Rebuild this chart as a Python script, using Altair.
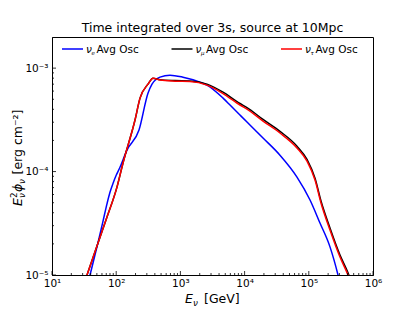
import altair as alt
import pandas as pd

# ---------------- data ----------------
E_nue = [33.1, 39.1, 50.2, 62.2, 72.0, 80.0, 90.0, 100.0, 114.6, 147.2, 226.5, 312.6,
         361.4, 480.8, 688.7, 1096, 2018, 2594, 4613, 5929, 8472, 10890, 19360, 35560,
         65460, 104500, 149300, 213800, 285100, 338800]
phi_nue = [6.6e-6, 1.0e-5, 1.87e-5, 3.30e-5, 4.9e-5, 6.3e-5, 7.8e-5, 9.2e-5, 1.10e-4,
           1.61e-4, 2.52e-4, 5.73e-4, 7.0e-4, 8.18e-4, 8.55e-4, 8.18e-4, 7.33e-4, 6.85e-4,
           5.13e-4, 4.40e-4, 3.52e-4, 3.01e-4, 2.11e-4, 1.44e-4, 8.85e-5, 5.31e-5,
           3.18e-5, 1.87e-5, 1.0e-5, 6.3e-6]

E_numu = [30, 35.1, 52.1, 71.9, 102.8, 127.6, 196.3, 235, 313, 374, 481, 824, 1413,
          2594, 4613, 8472, 10890, 19360, 35560, 65460, 93760, 125000, 154900,
          213800, 306200, 408300, 501000]
phi_numu = [7.6e-6, 1.0e-5, 2.04e-5, 3.63e-5, 7.08e-5, 1.21e-4, 3.15e-4, 5.13e-4,
            7.0e-4, 8.0e-4, 7.72e-4, 7.58e-4, 7.52e-4, 7.0e-4, 5.85e-4, 4.55e-4,
            4.16e-4, 3.19e-4, 2.45e-4, 1.76e-4, 1.31e-4, 8.6e-5, 5.2e-5, 2.85e-5,
            1.56e-5, 1.05e-5, 7.4e-6]

E_nutau = [30, 35.1, 52.1, 71.9, 102.8, 127.6, 196.3, 235, 313, 374, 481, 824, 1413,
           2594, 4613, 8472, 10890, 19360, 35560, 65460, 93760, 125000, 154900,
           213800, 306200, 408300, 501000]
phi_nutau = [7.6e-6, 1.0e-5, 2.04e-5, 3.63e-5, 7.08e-5, 1.21e-4, 3.15e-4, 5.13e-4,
             7.0e-4, 8.0e-4, 7.66e-4, 7.48e-4, 7.41e-4, 6.85e-4, 5.68e-4, 4.40e-4,
             4.02e-4, 3.08e-4, 2.36e-4, 1.69e-4, 1.26e-4, 8.28e-5, 4.97e-5, 2.72e-5,
             1.49e-5, 1.0e-5, 7.1e-6]

series = ["nue", "numu", "nutau"]
colors = ["#0000ff", "#000000", "#ff0000"]
subscripts = ["e", "μ", "τ"]
legend_text = "Avg Osc"
title_text = "Time integrated over 3s, source at 10Mpc"

x_major = [10, 100, 1e3, 1e4, 1e5, 1e6]
y_major = [1e-5, 1e-4, 1e-3]
x_domain = [10, 1e6]
y_domain = [1e-5, 2e-3]

# ---------------- layout ----------------
W, H = 321, 238
FONT = "DejaVu Sans"

rows = []
for name, Es, ps in [("nue", E_nue, phi_nue), ("numu", E_numu, phi_numu),
                     ("nutau", E_nutau, phi_nutau)]:
    for e, p in zip(Es, ps):
        rows.append({"series": name, "E": e, "phi": p})
df = pd.DataFrame(rows)

xscale = alt.Scale(type="log", domain=x_domain, nice=False)
yscale = alt.Scale(type="log", domain=y_domain, nice=False)
cscale = alt.Scale(domain=series, range=colors)

sup = "['⁰','¹','²','³','⁴','⁵','⁶','⁷']"
x_axis = alt.Axis(values=x_major, labelExpr="'10' + " + sup + "[round(log(datum.value)/LN10)]",
                  title=None, ticks=False, tickSize=0, grid=False, labelFlush=False,
                  labelOverlap=False, labelPadding=3, labelFontSize=10.5, labelFont=FONT,
                  labelColor="black", domainColor="black", domainWidth=1)
y_axis = alt.Axis(values=y_major, labelExpr="'10⁻' + " + sup + "[round(-log(datum.value)/LN10)]",
                  title=None, ticks=False, tickSize=0, grid=False, labelFlush=False,
                  labelOverlap=False, labelPadding=4, labelFontSize=10.5, labelFont=FONT,
                  labelColor="black", domainColor="black", domainWidth=1)

lines = alt.Chart(df).mark_line(strokeWidth=1.5, clip=True, interpolate="monotone").encode(
    x=alt.X("E:Q", scale=xscale, axis=x_axis),
    y=alt.Y("phi:Q", scale=yscale, axis=y_axis),
    color=alt.Color("series:N", scale=cscale, legend=None),
)

# inward ticks
x_minor = [k * 10 ** d for d in range(1, 6) for k in range(2, 10)]
y_minor = [k * 10.0 ** d for d in (-5, -4, -3) for k in range(2, 10) if k * 10.0 ** d < y_domain[1] * 0.999]

def xticks(vals, length):
    return alt.Chart(pd.DataFrame({"t": vals})).mark_rule(color="black", strokeWidth=0.8).encode(
        x=alt.X("t:Q", scale=xscale, axis=x_axis), y=alt.value(H), y2=alt.value(H - length))

def yticks(vals, length):
    return alt.Chart(pd.DataFrame({"t": vals})).mark_rule(color="black", strokeWidth=0.8).encode(
        y=alt.Y("t:Q", scale=yscale, axis=y_axis), x=alt.value(0), x2=alt.value(length))

ticks = [xticks(x_major, 4), xticks(x_minor, 2), yticks(y_major, 4), yticks(y_minor, 2)]

# legend (custom, to allow subscripts)
step = 109.5
leg = pd.DataFrame({
    "series": series,
    "sub": subscripts,
    "txt": [legend_text] * 3,
    "nu": ["ν"] * 3,
    "x0": [10 + i * step for i in range(3)],
    "x1": [31 + i * step for i in range(3)],
    "xn": [34 + i * step for i in range(3)],
    "xs": [39.5 + i * step for i in range(3)],
    "xt": [44.5 + i * step for i in range(3)],
})
LY = 12
leg_lines = alt.Chart(leg).mark_rule(strokeWidth=1.5).encode(
    x=alt.X("x0:Q", scale=None), x2="x1:Q", y=alt.value(LY),
    color=alt.Color("series:N", scale=cscale, legend=None))
leg_nu = alt.Chart(leg).mark_text(font=FONT, fontSize=10.5, fontStyle="italic", align="left",
                                  baseline="alphabetic", color="black").encode(
    x=alt.X("xn:Q", scale=None), y=alt.value(LY + 3.6), text="nu:N")
leg_sub = alt.Chart(leg).mark_text(font=FONT, fontSize=5.5, fontStyle="italic", align="left",
                                   baseline="alphabetic", color="black").encode(
    x=alt.X("xs:Q", scale=None), y=alt.value(LY + 5.5), text="sub:N")
leg_txt = alt.Chart(leg).mark_text(font=FONT, fontSize=10.5, align="left",
                                   baseline="alphabetic", color="black").encode(
    x=alt.X("xt:Q", scale=None), y=alt.value(LY + 3.6), text="txt:N")

def label(text, x, y, size=12.5, italic=False, angle=0, align="left"):
    kw = dict(font=FONT, fontSize=size, align=align, baseline="alphabetic", color="black")
    if italic:
        kw["fontStyle"] = "italic"
    if angle:
        kw["angle"] = angle
    return alt.Chart(pd.DataFrame({"t": [text]})).mark_text(**kw).encode(
        text="t:N", x=alt.value(x), y=alt.value(y))

title = label(title_text, W / 2, -5.5, size=12.5, align="center")

# x axis title: E_nu [GeV]
xt = [label("E", 133, 266, italic=True),
      label("ν", 141, 269, size=8.75, italic=True),
      label("[GeV]", 152, 266)]

# y axis title (rotated): E^2_nu phi_nu [erg cm^-2]
bx = -30
yt = [label("E", bx, 169, italic=True, angle=270),
      label("2", bx - 5, 161, size=8.75, angle=270),
      label("ν", bx + 2.5, 161, size=8.75, italic=True, angle=270),
      label("ϕ", bx, 155, italic=True, angle=270),
      label("ν", bx + 2.5, 147, size=8.75, italic=True, angle=270),
      label("[erg cm⁻²]", bx, 137.5, angle=270)]

chart = alt.layer(lines, *ticks, leg_lines, leg_nu, leg_sub, leg_txt, title, *xt, *yt).properties(
    width=W, height=H,
    padding={"left": 44, "top": 29, "right": 34, "bottom": 33},
    autosize=alt.AutoSizeParams(type="none"),
).configure(font=FONT).configure_view(stroke="black", strokeWidth=1)

chart.save("out.html", embed_options={"renderer": "svg", "actions": False})
